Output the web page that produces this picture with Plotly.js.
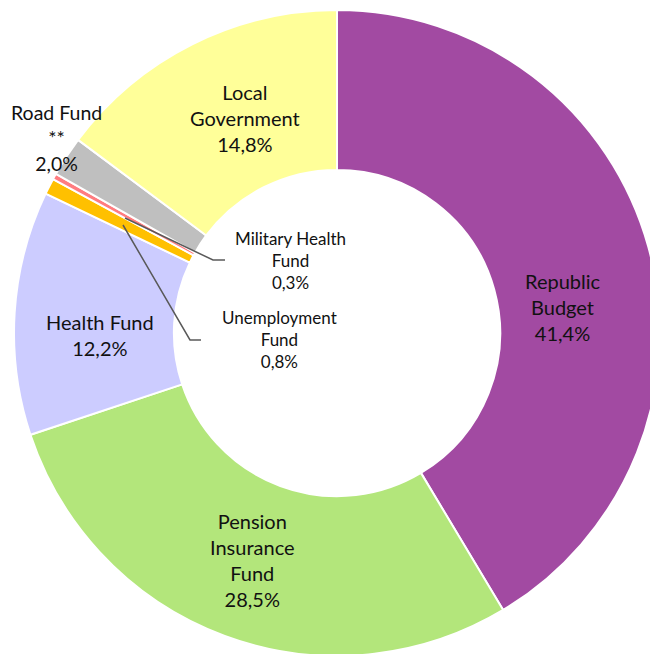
<!DOCTYPE html>
<html>
<head>
<meta charset="utf-8">
<script src="https://cdn.plot.ly/plotly-3.0.1.min.js"></script>
<style>
html,body{margin:0;padding:0;overflow:hidden;background:#fff;width:650px;height:654px;}
#chart{width:674px;height:667px;}
</style>
</head>
<body>
<div id="chart"></div>
<script>
// Data
var categories = ["Republic Budget", "Pension Insurance Fund", "Health Fund", "Unemployment Fund", "Military Health Fund", "Road Fund **", "Local Government"];
var displayLabels = ["Republic<br>Budget", "Pension<br>Insurance<br>Fund", "Health Fund", "Unemployment<br>Fund", "Military Health<br>Fund", "Road Fund<br>**", "Local<br>Government"];
var shares = [41.4, 28.5, 12.2, 0.8, 0.3, 2.0, 14.8];
var colors = ["#A24AA2", "#B3E67B", "#CCCCFF", "#FFC000", "#FF7C80", "#BFBFBF", "#FFFF99"];

// Layout helpers (pixel -> paper)
var W = 674, H = 667, ML = 14, MT = 10, PW = 646, PH = 646;
function px(x){ return (x - ML) / PW; }
function py(y){ return 1 - (y - MT) / PH; }

function fmt(v){ return v.toFixed(1).replace('.', ',') + '%'; }

// label positions (pixel centers) and font sizes
var labelPos = [
  [563, 307, 20], [252, 560, 20], [100, 335, 20],
  [279, 339, 17], [290, 260, 17], [56, 138, 19.5], [245, 118, 20]
];

var annotations = categories.map(function(c, i){
  return {
    xref: 'paper', yref: 'paper',
    x: px(labelPos[i][0]), y: py(labelPos[i][1]),
    xanchor: 'center', yanchor: 'middle',
    text: displayLabels[i] + '<br>' + fmt(shares[i]),
    showarrow: false, align: 'center',
    font: {family: 'Lato, "Open Sans", sans-serif', size: labelPos[i][2], color: '#111111'}
  };
});

function seg(pts){
  var d = 'M ' + px(pts[0][0]) + ',' + py(pts[0][1]);
  for (var i = 1; i < pts.length; i++) d += ' L ' + px(pts[i][0]) + ',' + py(pts[i][1]);
  return d;
}

var shapes = [
  {type:'path', xref:'paper', yref:'paper', path: seg([[125,218],[213,260],[225,260]]), line:{color:'#595959', width:1.5}},
  {type:'path', xref:'paper', yref:'paper', path: seg([[123,225],[190,340],[201,340]]), line:{color:'#595959', width:1.5}}
];

var trace = {
  type: 'pie',
  labels: categories,
  values: shares,
  hole: 0.505,
  sort: false,
  direction: 'clockwise',
  rotation: 0,
  marker: {colors: colors, line: {color: '#ffffff', width: 2}},
  textinfo: 'none',
  hoverinfo: 'label+percent',
  showlegend: false
};

var layout = {
  width: W, height: H,
  margin: {l: ML, r: W - ML - PW, t: MT, b: H - MT - PH, pad: 0},
  paper_bgcolor: '#ffffff',
  showlegend: false,
  annotations: annotations,
  shapes: shapes
};

Plotly.newPlot('chart', [trace], layout, {displayModeBar: false, staticPlot: true});
</script>
</body>
</html>
